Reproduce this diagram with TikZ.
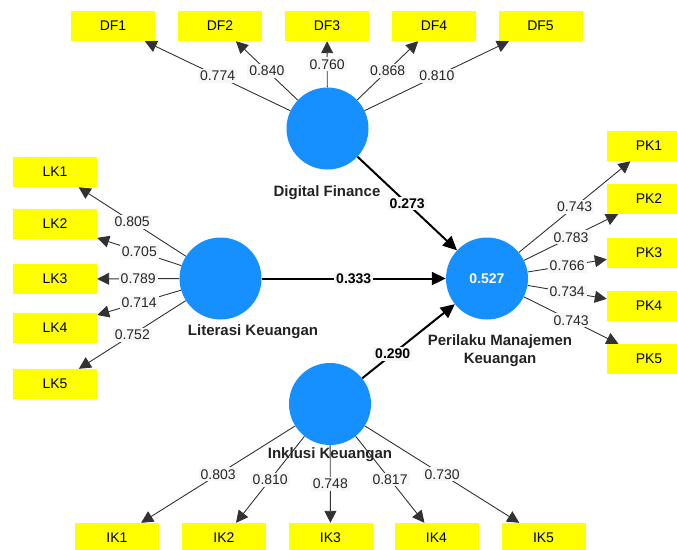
\documentclass[tikz,border=0pt]{standalone}
\usepackage{fontspec}
\setmainfont{Liberation Sans}
\usetikzlibrary{arrows.meta}
\definecolor{boxyellow}{RGB}{255,255,0}
\definecolor{lvblue}{RGB}{22,144,255}
\definecolor{lblfill}{RGB}{247,247,247}
\definecolor{linegray}{RGB}{50,50,50}
\definecolor{nametext}{RGB}{35,35,35}
\begin{document}
\begin{tikzpicture}[x=1pt,y=-1pt,
 ind/.style={fill=boxyellow, minimum width=84pt, minimum height=30pt, inner sep=0pt, font=\fontsize{14}{16}\selectfont},
 lv/.style={circle, fill=lvblue, minimum size=82pt, inner sep=0pt},
 lvname/.style={font=\fontsize{15}{18}\selectfont\bfseries, text=nametext, align=center},
 load/.style={draw=linegray, line width=0.9pt, -{Triangle[length=12pt,width=12pt]}},
 struct/.style={draw=black, line width=2pt, -{Triangle[length=14pt,width=13pt]}},
 loadlbl/.style={fill=lblfill, inner xsep=2pt, inner ysep=2pt, font=\fontsize{14}{16}\selectfont, text=black!85},
 structlbl/.style={fill=lblfill, inner xsep=2pt, inner ysep=2pt, font=\fontsize{14}{16}\selectfont\bfseries, text=black}
]
\useasboundingbox (0,0) rectangle (677,549);

% latent variables
\node[lv] (DF) at (327.5,128.5) {};
\node[lv] (LK) at (220.5,278.5) {};
\node[lv] (PK) at (487,278.5) {\fontsize{14}{16}\selectfont\bfseries\textcolor{white}{0.527}};
\node[lv] (IK) at (330,404) {};

% indicators
\node[ind] (DF1) at (113,26) {DF1};
\node[ind] (DF2) at (220,26) {DF2};
\node[ind] (DF3) at (327,26) {DF3};
\node[ind] (DF4) at (434,26) {DF4};
\node[ind] (DF5) at (540.5,26) {DF5};

\node[ind] (LK1) at (55,172) {LK1};
\node[ind] (LK2) at (55,224) {LK2};
\node[ind] (LK3) at (55,279) {LK3};
\node[ind] (LK4) at (55,327.5) {LK4};
\node[ind] (LK5) at (55,384) {LK5};

\node[ind] (PK1) at (649,146) {PK1};
\node[ind] (PK2) at (649,199) {PK2};
\node[ind] (PK3) at (649,252.5) {PK3};
\node[ind] (PK4) at (649,306) {PK4};
\node[ind] (PK5) at (649,359) {PK5};

\node[ind] (IK1) at (117,538) {IK1};
\node[ind] (IK2) at (224,538) {IK2};
\node[ind] (IK3) at (330.5,538) {IK3};
\node[ind] (IK4) at (436.5,538) {IK4};
\node[ind] (IK5) at (543.5,538) {IK5};

% loadings
\draw[load] (DF) -- node[loadlbl]{0.774} (DF1);
\draw[load] (DF) -- node[loadlbl]{0.840} (DF2);
\draw[load] (DF) -- node[loadlbl]{0.760} (DF3);
\draw[load] (DF) -- node[loadlbl]{0.868} (DF4);
\draw[load] (DF) -- node[loadlbl]{0.810} (DF5);

\draw[load] (LK) -- node[loadlbl]{0.805} (LK1);
\draw[load] (LK) -- node[loadlbl]{0.705} (LK2);
\draw[load] (LK) -- node[loadlbl]{0.789} (LK3);
\draw[load] (LK) -- node[loadlbl]{0.714} (LK4);
\draw[load] (LK) -- node[loadlbl]{0.752} (LK5);

\draw[load] (PK) -- node[loadlbl]{0.743} (PK1);
\draw[load] (PK) -- node[loadlbl]{0.783} (PK2);
\draw[load] (PK) -- node[loadlbl]{0.766} (PK3);
\draw[load] (PK) -- node[loadlbl]{0.734} (PK4);
\draw[load] (PK) -- node[loadlbl]{0.743} (PK5);

\draw[load] (IK) -- node[loadlbl]{0.803} (IK1);
\draw[load] (IK) -- node[loadlbl]{0.810} (IK2);
\draw[load] (IK) -- node[loadlbl]{0.748} (IK3);
\draw[load] (IK) -- node[loadlbl]{0.817} (IK4);
\draw[load] (IK) -- node[loadlbl]{0.730} (IK5);

% structural paths
\draw[struct] (DF) -- node[structlbl]{0.273} (PK);
\draw[struct] (LK) -- node[structlbl]{0.333} (PK);
\draw[struct] (IK) -- node[structlbl, pos=0.33]{0.290} (PK);

% construct names
\node[lvname] (DFn) at (327,193) {Digital Finance};
\node[lvname] (LKn) at (253,332) {Literasi Keuangan};
\node[lvname] (IKn) at (330,455) {Inklusi Keuangan};
\node[lvname] (PKn) at (500,351) {Perilaku Manajemen\\Keuangan};
\end{tikzpicture}
\end{document}
